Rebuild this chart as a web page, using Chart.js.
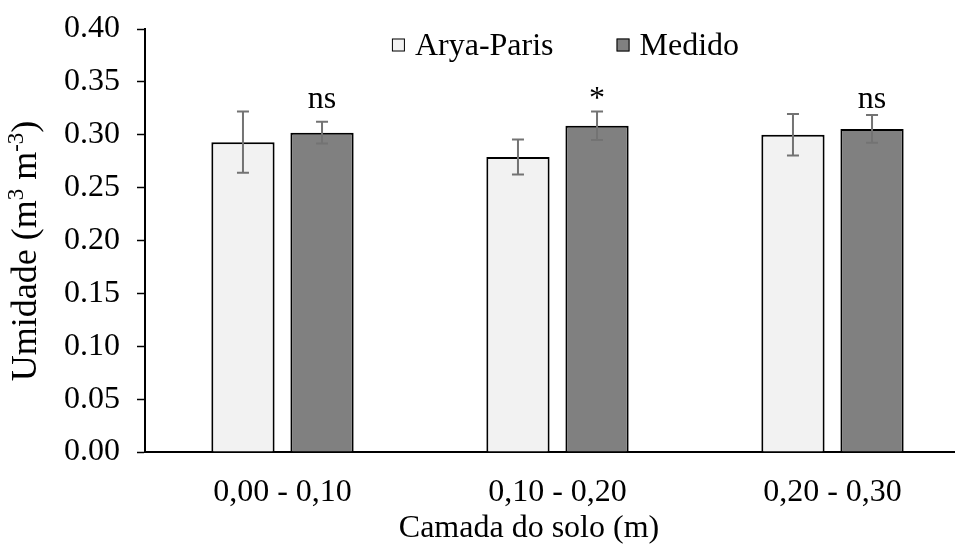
<!DOCTYPE html>
<html>
<head>
<meta charset="utf-8">
<script src="https://cdn.jsdelivr.net/npm/chart.js@4/dist/chart.umd.min.js"></script>
<style>
  html, body { margin: 0; padding: 0; background: #fff; }
  #wrap { width: 955px; height: 546px; overflow: hidden; position: relative; }
  canvas { display: block; }
</style>
</head>
<body>
<div id="wrap"><canvas id="chart" width="990" height="546"></canvas></div>
<script>
// data
var categories = ['0,00 - 0,10', '0,10 - 0,20', '0,20 - 0,30'];
var aryaParis = [0.293, 0.279, 0.300];
var aryaParisErr = [0.029, 0.0165, 0.0197];
var medido = [0.302, 0.3085, 0.3055];
var medidoErr = [0.0102, 0.0134, 0.0131];
var significance = ['ns', '*', 'ns'];
var yMin = 0, yMax = 0.40, yStep = 0.05;

var FONT = "'Liberation Serif', 'Times New Roman', serif";
var SIZE = 32;
Chart.defaults.font.family = FONT;
Chart.defaults.color = '#000';

// error bars drawn on top of the bars
var errorBars = {
    id: 'errorBars',
    afterDatasetsDraw: function(chart) {
        var ctx = chart.ctx;
        var y = chart.scales.y;
        chart.data.datasets.forEach(function(ds, di) {
            var meta = chart.getDatasetMeta(di);
            meta.data.forEach(function(bar, i) {
                var v = ds.data[i], e = ds.errors[i];
                var top = y.getPixelForValue(v + e);
                var bot = y.getPixelForValue(v - e);
                ctx.save();
                ctx.strokeStyle = '#737373';
                ctx.lineWidth = 2;
                ctx.beginPath();
                ctx.moveTo(bar.x, top); ctx.lineTo(bar.x, bot);
                ctx.moveTo(bar.x - 6, top); ctx.lineTo(bar.x + 6, top);
                ctx.moveTo(bar.x - 6, bot); ctx.lineTo(bar.x + 6, bot);
                ctx.stroke();
                ctx.restore();
            });
        });
    }
};

// ns / * labels above the "Medido" bars
var sigLabels = {
    id: 'sigLabels',
    afterDatasetsDraw: function(chart) {
        var ctx = chart.ctx;
        var meta = chart.getDatasetMeta(1);
        var ypix = chart.scales.y.getPixelForValue(0.325);
        ctx.save();
        ctx.font = SIZE + 'px ' + FONT;
        ctx.fillStyle = '#000';
        ctx.textAlign = 'center';
        ctx.textBaseline = 'alphabetic';
        meta.data.forEach(function(bar, i) {
            ctx.fillText(significance[i], bar.x, ypix);
        });
        ctx.restore();
    }
};

// legend inside the plot area, top centre
var innerLegend = {
    id: 'innerLegend',
    afterDraw: function(chart) {
        var ctx = chart.ctx;
        var area = chart.chartArea;
        var box = 13, gap = 10, itemGap = 63;
        ctx.save();
        ctx.font = SIZE + 'px ' + FONT;
        var items = chart.data.datasets.map(function(ds) {
            return { label: ds.label, color: ds.backgroundColor, w: ctx.measureText(ds.label).width };
        });
        var total = 0;
        items.forEach(function(it, i) { total += box + gap + it.w + (i ? itemGap : 0); });
        var x = (area.left + area.right) / 2 + 8 - total / 2;
        var cy = area.top + 16;
        items.forEach(function(it) {
            ctx.fillStyle = it.color;
            ctx.fillRect(x, cy - box / 2, box, box);
            ctx.strokeStyle = '#000';
            ctx.lineWidth = 1;
            ctx.strokeRect(x + 0.5, cy - box / 2 + 0.5, box - 1, box - 1);
            ctx.fillStyle = '#000';
            ctx.textBaseline = 'alphabetic';
            ctx.textAlign = 'left';
            ctx.fillText(it.label, x + box + gap, cy + 10);
            x += box + gap + it.w + itemGap;
        });
        ctx.restore();
    }
};

// axis titles (y title with real superscripts)
var axisTitles = {
    id: 'axisTitles',
    afterDraw: function(chart) {
        var ctx = chart.ctx;
        var area = chart.chartArea;
        ctx.save();
        ctx.fillStyle = '#000';
        ctx.font = SIZE + 'px ' + FONT;
        ctx.textAlign = 'center';
        ctx.textBaseline = 'alphabetic';
        ctx.fillText('Camada do solo (m)', area.left + 384, 537);

        var ySize = 36;
        var parts = [
            { t: 'Umidade (m', sup: false },
            { t: '3', sup: true },
            { t: ' m', sup: false },
            { t: '-3', sup: true },
            { t: ')', sup: false }
        ];
        var big = ySize + 'px ' + FONT, small = Math.round(ySize * 0.65) + 'px ' + FONT;
        var total = 0;
        parts.forEach(function(p) {
            ctx.font = p.sup ? small : big;
            p.w = ctx.measureText(p.t).width;
            total += p.w;
        });
        ctx.translate(36, 251);
        ctx.rotate(-Math.PI / 2);
        ctx.textAlign = 'left';
        var x = -total / 2;
        parts.forEach(function(p) {
            ctx.font = p.sup ? small : big;
            ctx.fillText(p.t, x, p.sup ? -ySize * 0.36 : 0);
            x += p.w;
        });
        ctx.restore();
    }
};

var ctxBar = document.getElementById('chart').getContext('2d');
var chart = new Chart(ctxBar, {
    type: 'bar',
    data: {
        labels: categories,
        datasets: [{
            label: 'Arya-Paris',
            data: aryaParis,
            errors: aryaParisErr,
            backgroundColor: '#f2f2f2',
            borderColor: '#000',
            borderWidth: 2
        }, {
            label: 'Medido',
            data: medido,
            errors: medidoErr,
            backgroundColor: '#808080',
            borderColor: '#000',
            borderWidth: 2
        }]
    },
    options: {
        responsive: false,
        animation: false,
        devicePixelRatio: 1,
        categoryPercentage: 0.575,
        barPercentage: 0.8,
        layout: { padding: { top: 29, right: 20, left: 0, bottom: 0 } },
        plugins: {
            legend: { display: false },
            tooltip: { enabled: false }
        },
        scales: {
            x: {
                grid: { display: false },
                border: { color: '#000', width: 2 },
                ticks: { font: { size: SIZE }, color: '#000', padding: 13, maxRotation: 0 },
                afterFit: function(scale) {
                    scale.height = 94;
                    scale.paddingLeft = 0;
                    scale.paddingRight = 0;
                }
            },
            y: {
                min: yMin,
                max: yMax,
                grid: { drawOnChartArea: false, tickLength: 8, color: '#000', tickWidth: 1.5 },
                border: { color: '#000', width: 2 },
                ticks: {
                    stepSize: yStep,
                    font: { size: SIZE },
                    color: '#000',
                    padding: 17,
                    callback: function(v) { return v.toFixed(2); }
                },
                afterFit: function(scale) {
                    scale.width = 145;
                    scale.paddingTop = 0;
                    scale.paddingBottom = 0;
                }
            }
        }
    },
    plugins: [errorBars, sigLabels, innerLegend, axisTitles]
});
</script>
</body>
</html>
